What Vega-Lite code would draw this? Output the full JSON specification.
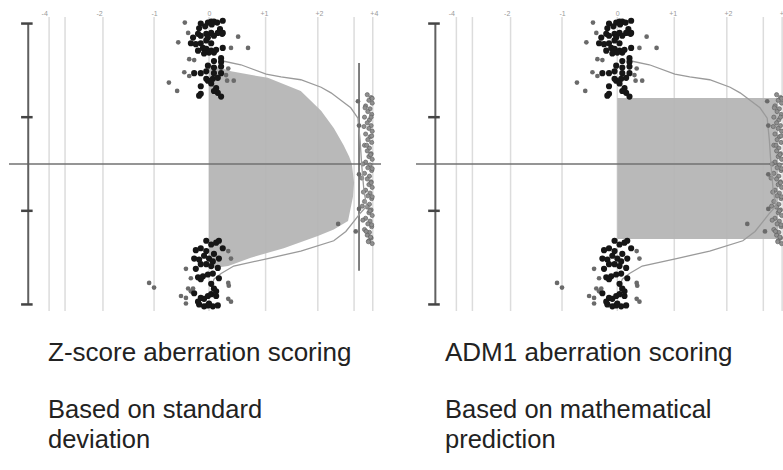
{
  "$schema": "https://vega.github.io/schema/vega-lite/v6.json",
  "background": "white",
  "padding": {"left": 8, "top": 9, "right": 0, "bottom": 0},
  "spacing": 33,
  "config": {"view": {"stroke": null}, "font": "Liberation Sans"},
  "datasets": {
    "grid": [{"u": -2.91}, {"u": -2.62}, {"u": -1.93}, {"u": -1}, {"u": 0}, {"u": 1.03}, {"u": 1.98}, {"u": 2.64}, {"u": 2.98}],
    "ybar": [{"u": -3.29, "v1": 1.5, "v2": -1.5}],
    "yticks": [{"v": 1.5, "a": -3.42, "b": -3.21}, {"v": 0.5, "a": -3.42, "b": -3.21}, {"v": -0.5, "a": -3.42, "b": -3.21}, {"v": -1.5, "a": -3.42, "b": -3.21}],
    "vline": [{"u": 2.73, "v1": 1.08, "v2": -1.14}],
    "hline": [{"a": -3.64, "b": 3.13, "v": 0}],
    "areaL": [
      {"u": 0, "v": 1.07, "z": 0}, {"u": 0.4, "v": 0.99, "z": 0}, {"u": 1.07, "v": 0.92, "z": 0}, {"u": 1.67, "v": 0.78, "z": 0}, {"u": 2.04, "v": 0.57, "z": 0},
      {"u": 2.27, "v": 0.385, "z": 0}, {"u": 2.45, "v": 0.2, "z": 0}, {"u": 2.55, "v": 0.08, "z": 0}, {"u": 2.6, "v": 0, "z": 0}, {"u": 2.64, "v": -0.2, "z": 0},
      {"u": 2.62, "v": -0.35, "z": 0}, {"u": 2.53, "v": -0.61, "z": 0}, {"u": 2.27, "v": -0.7, "z": 0}, {"u": 1.98, "v": -0.77, "z": 0}, {"u": 1.36, "v": -0.9, "z": 0},
      {"u": 0.76, "v": -1.0, "z": 0}, {"u": 0.35, "v": -1.09, "z": 0}, {"u": 0.09, "v": -1.11, "z": 0}, {"u": 0, "v": -1.12, "z": 0}
    ],
    "rectR": [{"u1": 0, "u2": 2.91, "v1": 0.706, "v2": -0.8}],
    "curve": [
      {"i": 1, "u": 0.25, "v": 1.1}, {"i": 2, "u": 0.58, "v": 1.06}, {"i": 3, "u": 1.04, "v": 0.96}, {"i": 4, "u": 1.31, "v": 0.93},
      {"i": 5, "u": 1.67, "v": 0.9}, {"i": 6, "u": 2.04, "v": 0.82}, {"i": 7, "u": 2.22, "v": 0.76}, {"i": 8, "u": 2.4, "v": 0.68},
      {"i": 9, "u": 2.58, "v": 0.6}, {"i": 10, "u": 2.71, "v": 0.49}, {"i": 11, "u": 2.75, "v": 0.25}, {"i": 12, "u": 2.78, "v": -0.02},
      {"i": 13, "u": 2.82, "v": -0.29}, {"i": 14, "u": 2.87, "v": -0.45}, {"i": 15, "u": 2.76, "v": -0.52}, {"i": 16, "u": 2.64, "v": -0.61},
      {"i": 17, "u": 2.49, "v": -0.72}, {"i": 18, "u": 2.27, "v": -0.82}, {"i": 19, "u": 1.67, "v": -0.93}, {"i": 20, "u": 1.07, "v": -1.01},
      {"i": 21, "u": 0.45, "v": -1.09}, {"i": 22, "u": 0.22, "v": -1.17}, {"i": 23, "u": 0.09, "v": -1.23}, {"i": 24, "u": 0.05, "v": -1.3},
      {"i": 25, "u": 0.04, "v": -1.38}
    ],
    "column": [
      {"u": 2.88, "v": 0.74}, {"u": 2.95, "v": 0.71}, {"u": 2.91, "v": 0.68}, {"u": 2.97, "v": 0.65}, {"u": 2.85, "v": 0.62},
      {"u": 2.93, "v": 0.59}, {"u": 2.89, "v": 0.56}, {"u": 2.96, "v": 0.53}, {"u": 2.83, "v": 0.5}, {"u": 2.92, "v": 0.47},
      {"u": 2.88, "v": 0.44}, {"u": 2.95, "v": 0.41}, {"u": 2.91, "v": 0.38}, {"u": 2.97, "v": 0.35}, {"u": 2.85, "v": 0.32},
      {"u": 2.93, "v": 0.29}, {"u": 2.89, "v": 0.26}, {"u": 2.96, "v": 0.23}, {"u": 2.83, "v": 0.2}, {"u": 2.92, "v": 0.17},
      {"u": 2.88, "v": 0.14}, {"u": 2.95, "v": 0.11}, {"u": 2.91, "v": 0.08}, {"u": 2.97, "v": 0.05}, {"u": 2.85, "v": 0.02},
      {"u": 2.93, "v": -0.01}, {"u": 2.89, "v": -0.04}, {"u": 2.96, "v": -0.07}, {"u": 2.83, "v": -0.1}, {"u": 2.92, "v": -0.13},
      {"u": 2.88, "v": -0.16}, {"u": 2.95, "v": -0.19}, {"u": 2.91, "v": -0.22}, {"u": 2.97, "v": -0.25}, {"u": 2.85, "v": -0.28},
      {"u": 2.93, "v": -0.31}, {"u": 2.89, "v": -0.34}, {"u": 2.96, "v": -0.37}, {"u": 2.83, "v": -0.4}, {"u": 2.92, "v": -0.43},
      {"u": 2.88, "v": -0.46}, {"u": 2.95, "v": -0.49}, {"u": 2.91, "v": -0.52}, {"u": 2.97, "v": -0.55}, {"u": 2.85, "v": -0.58},
      {"u": 2.93, "v": -0.61}, {"u": 2.89, "v": -0.64}, {"u": 2.96, "v": -0.67}, {"u": 2.83, "v": -0.7}, {"u": 2.92, "v": -0.73},
      {"u": 2.88, "v": -0.76}, {"u": 2.95, "v": -0.79}, {"u": 2.91, "v": -0.82}, {"u": 2.97, "v": -0.85},
      {"u": 2.97, "v": 0.7}, {"u": 2.84, "v": 0.6}, {"u": 2.95, "v": 0.5}, {"u": 2.82, "v": 0.4}, {"u": 2.96, "v": 0.3},
      {"u": 2.87, "v": 0.2}, {"u": 2.94, "v": 0.1}, {"u": 2.8, "v": 0.0}, {"u": 2.97, "v": -0.05}, {"u": 2.78, "v": -0.15},
      {"u": 2.95, "v": -0.2}, {"u": 2.81, "v": -0.3}, {"u": 2.97, "v": -0.35}, {"u": 2.79, "v": -0.45}, {"u": 2.93, "v": -0.5},
      {"u": 2.8, "v": -0.6}, {"u": 2.96, "v": -0.65}, {"u": 2.86, "v": -0.72}, {"u": 2.94, "v": -0.78}, {"u": 2.9, "v": -0.83}
    ],
    "clusters": [
      {"u": -0.44, "v": 1.51, "g": "light"}, {"u": -0.15, "v": 1.5, "g": "dark"}, {"u": -0.02, "v": 1.51, "g": "dark"}, {"u": 0.04, "v": 1.52, "g": "dark"},
      {"u": 0.09, "v": 1.52, "g": "dark"}, {"u": 0.15, "v": 1.51, "g": "dark"}, {"u": 0.25, "v": 1.53, "g": "dark"}, {"u": -0.18, "v": 1.45, "g": "dark"},
      {"u": -0.07, "v": 1.47, "g": "dark"}, {"u": 0.05, "v": 1.49, "g": "dark"}, {"u": 0.2, "v": 1.44, "g": "dark"}, {"u": 0.25, "v": 1.4, "g": "dark"},
      {"u": -0.38, "v": 1.4, "g": "light"}, {"u": -0.2, "v": 1.39, "g": "dark"}, {"u": -0.05, "v": 1.39, "g": "dark"}, {"u": 0.04, "v": 1.4, "g": "dark"},
      {"u": 0.16, "v": 1.4, "g": "dark"}, {"u": -0.29, "v": 1.35, "g": "dark"}, {"u": -0.15, "v": 1.37, "g": "dark"}, {"u": -0.02, "v": 1.35, "g": "dark"},
      {"u": 0.09, "v": 1.37, "g": "dark"}, {"u": 0.24, "v": 1.39, "g": "dark"}, {"u": 0.53, "v": 1.36, "g": "light"}, {"u": -0.56, "v": 1.3, "g": "light"},
      {"u": -0.33, "v": 1.29, "g": "dark"}, {"u": -0.24, "v": 1.28, "g": "dark"}, {"u": -0.15, "v": 1.29, "g": "dark"}, {"u": -0.05, "v": 1.32, "g": "dark"},
      {"u": 0.04, "v": 1.29, "g": "dark"}, {"u": -0.11, "v": 1.24, "g": "dark"}, {"u": -0.2, "v": 1.21, "g": "dark"}, {"u": -0.05, "v": 1.23, "g": "dark"},
      {"u": 0.04, "v": 1.21, "g": "dark"}, {"u": 0.13, "v": 1.22, "g": "dark"}, {"u": 0.25, "v": 1.24, "g": "dark"}, {"u": 0.4, "v": 1.24, "g": "light"},
      {"u": 0.71, "v": 1.24, "g": "light"}, {"u": -0.09, "v": 1.18, "g": "dark"}, {"u": 0, "v": 1.19, "g": "dark"}, {"u": 0.09, "v": 1.19, "g": "dark"},
      {"u": 0.22, "v": 1.13, "g": "dark"}, {"u": -0.36, "v": 1.12, "g": "light"}, {"u": -0.27, "v": 1.11, "g": "light"}, {"u": 0.09, "v": 1.1, "g": "dark"},
      {"u": 0.22, "v": 1.09, "g": "dark"}, {"u": -0.02, "v": 1.05, "g": "dark"}, {"u": 0.09, "v": 1.03, "g": "dark"}, {"u": 0.22, "v": 1.04, "g": "dark"},
      {"u": 0.35, "v": 1.02, "g": "light"}, {"u": -0.05, "v": 0.99, "g": "dark"}, {"u": -0.15, "v": 0.97, "g": "dark"}, {"u": -0.45, "v": 0.98, "g": "light"},
      {"u": -0.36, "v": 0.94, "g": "light"}, {"u": 0.09, "v": 0.97, "g": "dark"}, {"u": 0.22, "v": 0.97, "g": "dark"}, {"u": 0.31, "v": 0.95, "g": "light"},
      {"u": 0.45, "v": 0.89, "g": "light"}, {"u": -0.73, "v": 0.87, "g": "light"}, {"u": -0.58, "v": 0.78, "g": "light"}, {"u": -0.15, "v": 0.83, "g": "dark"},
      {"u": -0.02, "v": 0.89, "g": "dark"}, {"u": 0.07, "v": 0.91, "g": "dark"}, {"u": 0.16, "v": 0.92, "g": "dark"}, {"u": 0.04, "v": 0.86, "g": "dark"},
      {"u": 0.13, "v": 0.81, "g": "dark"}, {"u": 0.16, "v": 0.76, "g": "dark"}, {"u": 0.22, "v": 0.72, "g": "dark"}, {"u": -0.15, "v": 0.75, "g": "dark"},
      {"u": -0.18, "v": 0.73, "g": "dark"}, {"u": 0.09, "v": 0.78, "g": "dark"}, {"u": -0.27, "v": 0.97, "g": "dark"}, {"u": 0.33, "v": 0.89, "g": "light"},
      {"u": -0.05, "v": 0.91, "g": "dark"},
      {"u": -0.24, "v": -0.92, "g": "dark"}, {"u": -0.15, "v": -0.9, "g": "dark"}, {"u": -0.05, "v": -0.93, "g": "dark"}, {"u": 0.04, "v": -0.86, "g": "dark"},
      {"u": 0.13, "v": -0.84, "g": "dark"}, {"u": 0.18, "v": -0.82, "g": "dark"}, {"u": 0.25, "v": -0.9, "g": "dark"}, {"u": 0.35, "v": -0.93, "g": "light"},
      {"u": 0.4, "v": -1.01, "g": "light"}, {"u": -0.27, "v": -1.01, "g": "dark"}, {"u": -0.18, "v": -1.02, "g": "dark"}, {"u": -0.09, "v": -0.98, "g": "dark"},
      {"u": 0, "v": -1.01, "g": "dark"}, {"u": 0.09, "v": -0.96, "g": "dark"}, {"u": 0.18, "v": -1.01, "g": "dark"}, {"u": -0.15, "v": -1.07, "g": "dark"},
      {"u": -0.05, "v": -1.07, "g": "dark"}, {"u": 0.04, "v": -1.09, "g": "dark"}, {"u": 0.16, "v": -1.11, "g": "dark"}, {"u": -0.42, "v": -1.12, "g": "light"},
      {"u": -0.24, "v": -1.12, "g": "dark"}, {"u": -0.33, "v": -1.22, "g": "light"}, {"u": -0.2, "v": -1.21, "g": "dark"}, {"u": -0.11, "v": -1.2, "g": "dark"},
      {"u": -0.02, "v": -1.18, "g": "dark"}, {"u": 0.07, "v": -1.17, "g": "dark"}, {"u": 0.18, "v": -1.22, "g": "dark"}, {"u": -0.15, "v": -1.23, "g": "dark"},
      {"u": -1.09, "v": -1.27, "g": "light"}, {"u": -1.0, "v": -1.32, "g": "light"}, {"u": -0.38, "v": -1.33, "g": "light"}, {"u": -0.29, "v": -1.33, "g": "light"},
      {"u": 0.04, "v": -1.28, "g": "dark"}, {"u": 0.09, "v": -1.33, "g": "dark"}, {"u": 0.35, "v": -1.27, "g": "light"}, {"u": 0.36, "v": -1.3, "g": "light"},
      {"u": -0.51, "v": -1.41, "g": "light"}, {"u": -0.42, "v": -1.43, "g": "light"}, {"u": -0.33, "v": -1.36, "g": "light"}, {"u": -0.27, "v": -1.38, "g": "dark"},
      {"u": -0.42, "v": -1.49, "g": "light"}, {"u": -0.15, "v": -1.43, "g": "dark"}, {"u": -0.09, "v": -1.44, "g": "dark"}, {"u": -0.02, "v": -1.41, "g": "dark"},
      {"u": 0.04, "v": -1.39, "g": "dark"}, {"u": 0.13, "v": -1.41, "g": "dark"}, {"u": -0.18, "v": -1.5, "g": "dark"}, {"u": -0.09, "v": -1.52, "g": "dark"},
      {"u": -0.02, "v": -1.51, "g": "dark"}, {"u": 0.07, "v": -1.52, "g": "dark"}, {"u": 0.16, "v": -1.51, "g": "dark"}, {"u": 0.13, "v": -1.36, "g": "dark"},
      {"u": 0.4, "v": -1.47, "g": "light"}, {"u": 0.35, "v": -1.44, "g": "light"}, {"u": -0.2, "v": -1.47, "g": "dark"}, {"u": 0, "v": -1.49, "g": "dark"},
      {"u": -0.05, "v": -0.82, "g": "dark"}, {"u": 0.07, "v": -1.04, "g": "dark"},
      {"u": 2.71, "v": 0.67, "g": "light"}, {"u": 2.73, "v": 0.41, "g": "light"}, {"u": 2.73, "v": -0.11, "g": "light"}, {"u": 2.73, "v": -0.48, "g": "light"},
      {"u": 2.67, "v": -0.72, "g": "light"}, {"u": 2.35, "v": -0.64, "g": "light"}
    ]
  },
  "hconcat": [
    {
      "width": 372,
      "height": 294,
      "title": {
        "text": "Z-score aberration scoring",
        "subtitle": ["Based on standard", "deviation"],
        "orient": "bottom", "anchor": "start", "frame": "group", "offset": 28, "dx": 39,
        "font": "Liberation Sans", "fontSize": 26, "fontWeight": "normal", "color": "#222222",
        "subtitleFont": "Liberation Sans", "subtitleFontSize": 25.5, "subtitleColor": "#222222",
        "subtitlePadding": 32, "subtitleLineHeight": 30
      },
      "layer": [
        {
          "data": {"name": "grid"},
          "mark": {"type": "rule", "color": "#dcdcdc", "strokeWidth": 1.5},
          "encoding": {
            "x": {"field": "u", "type": "quantitative", "scale": {"domain": [-3.64, 3.13], "nice": false, "zero": false},
              "axis": {"orient": "top", "values": [-3, -2, -1, 0, 1, 2, 3], "labelExpr": "datum.value == -3 ? '-4' : datum.value == -2 ? '-2' : datum.value == -1 ? '-1' : datum.value == 0 ? '0' : datum.value == 1 ? '+1' : datum.value == 2 ? '+2' : '+4'", "domain": false, "ticks": false, "grid": false, "labelFontSize": 7, "labelColor": "#9a9a9a", "labelPadding": 1, "title": null, "labelFlush": false}}
          }
        },
        {
          "data": {"name": "areaL"},
          "mark": {"type": "area", "orient": "horizontal", "color": "#b3b3b3", "opacity": 0.92},
          "encoding": {
            "x": {"field": "u", "type": "quantitative",
              "axis": {"orient": "top", "values": [-3, -2, -1, 0, 1, 2, 3], "labelExpr": "datum.value == -3 ? '-4' : datum.value == -2 ? '-2' : datum.value == -1 ? '-1' : datum.value == 0 ? '0' : datum.value == 1 ? '+1' : datum.value == 2 ? '+2' : '+4'", "domain": false, "ticks": false, "grid": false, "labelFontSize": 7, "labelColor": "#9a9a9a", "labelPadding": 1, "title": null, "labelFlush": false}},
            "x2": {"field": "z"},
            "y": {"field": "v", "type": "quantitative", "scale": {"domain": [-1.57, 1.57], "nice": false, "zero": false}, "axis": null}
          }
        },
        {
          "data": {"name": "hline"},
          "mark": {"type": "rule", "color": "#727272", "strokeWidth": 1.5},
          "encoding": {
            "x": {"field": "a", "type": "quantitative",
              "axis": {"orient": "top", "values": [-3, -2, -1, 0, 1, 2, 3], "labelExpr": "datum.value == -3 ? '-4' : datum.value == -2 ? '-2' : datum.value == -1 ? '-1' : datum.value == 0 ? '0' : datum.value == 1 ? '+1' : datum.value == 2 ? '+2' : '+4'", "domain": false, "ticks": false, "grid": false, "labelFontSize": 7, "labelColor": "#9a9a9a", "labelPadding": 1, "title": null, "labelFlush": false}},
            "x2": {"field": "b"},
            "y": {"field": "v", "type": "quantitative", "axis": null}
          }
        },
        {
          "data": {"name": "ybar"},
          "mark": {"type": "rule", "color": "#606060", "strokeWidth": 2},
          "encoding": {
            "x": {"field": "u", "type": "quantitative",
              "axis": {"orient": "top", "values": [-3, -2, -1, 0, 1, 2, 3], "labelExpr": "datum.value == -3 ? '-4' : datum.value == -2 ? '-2' : datum.value == -1 ? '-1' : datum.value == 0 ? '0' : datum.value == 1 ? '+1' : datum.value == 2 ? '+2' : '+4'", "domain": false, "ticks": false, "grid": false, "labelFontSize": 7, "labelColor": "#9a9a9a", "labelPadding": 1, "title": null, "labelFlush": false}},
            "y": {"field": "v1", "type": "quantitative", "axis": null},
            "y2": {"field": "v2"}
          }
        },
        {
          "data": {"name": "yticks"},
          "mark": {"type": "rule", "color": "#444444", "strokeWidth": 2.5},
          "encoding": {
            "x": {"field": "a", "type": "quantitative",
              "axis": {"orient": "top", "values": [-3, -2, -1, 0, 1, 2, 3], "labelExpr": "datum.value == -3 ? '-4' : datum.value == -2 ? '-2' : datum.value == -1 ? '-1' : datum.value == 0 ? '0' : datum.value == 1 ? '+1' : datum.value == 2 ? '+2' : '+4'", "domain": false, "ticks": false, "grid": false, "labelFontSize": 7, "labelColor": "#9a9a9a", "labelPadding": 1, "title": null, "labelFlush": false}},
            "x2": {"field": "b"},
            "y": {"field": "v", "type": "quantitative", "axis": null}
          }
        },
        {
          "data": {"name": "vline"},
          "mark": {"type": "rule", "color": "#555555", "strokeWidth": 1.5},
          "encoding": {
            "x": {"field": "u", "type": "quantitative",
              "axis": {"orient": "top", "values": [-3, -2, -1, 0, 1, 2, 3], "labelExpr": "datum.value == -3 ? '-4' : datum.value == -2 ? '-2' : datum.value == -1 ? '-1' : datum.value == 0 ? '0' : datum.value == 1 ? '+1' : datum.value == 2 ? '+2' : '+4'", "domain": false, "ticks": false, "grid": false, "labelFontSize": 7, "labelColor": "#9a9a9a", "labelPadding": 1, "title": null, "labelFlush": false}},
            "y": {"field": "v1", "type": "quantitative", "axis": null},
            "y2": {"field": "v2"}
          }
        },
        {
          "data": {"name": "column"},
          "mark": {"type": "point", "filled": true, "color": "#8f8f8f", "stroke": "#5a5a5a", "strokeWidth": 0.6, "size": 18, "opacity": 1},
          "encoding": {
            "x": {"field": "u", "type": "quantitative",
              "axis": {"orient": "top", "values": [-3, -2, -1, 0, 1, 2, 3], "labelExpr": "datum.value == -3 ? '-4' : datum.value == -2 ? '-2' : datum.value == -1 ? '-1' : datum.value == 0 ? '0' : datum.value == 1 ? '+1' : datum.value == 2 ? '+2' : '+4'", "domain": false, "ticks": false, "grid": false, "labelFontSize": 7, "labelColor": "#9a9a9a", "labelPadding": 1, "title": null, "labelFlush": false}},
            "y": {"field": "v", "type": "quantitative", "axis": null}
          }
        },
        {
          "data": {"name": "curve"},
          "mark": {"type": "line", "color": "#9a9a9a", "strokeWidth": 1.3},
          "encoding": {
            "x": {"field": "u", "type": "quantitative",
              "axis": {"orient": "top", "values": [-3, -2, -1, 0, 1, 2, 3], "labelExpr": "datum.value == -3 ? '-4' : datum.value == -2 ? '-2' : datum.value == -1 ? '-1' : datum.value == 0 ? '0' : datum.value == 1 ? '+1' : datum.value == 2 ? '+2' : '+4'", "domain": false, "ticks": false, "grid": false, "labelFontSize": 7, "labelColor": "#9a9a9a", "labelPadding": 1, "title": null, "labelFlush": false}},
            "y": {"field": "v", "type": "quantitative", "axis": null},
            "order": {"field": "i"}
          }
        },
        {
          "data": {"name": "clusters"},
          "mark": {"type": "point", "filled": true, "opacity": 1},
          "encoding": {
            "x": {"field": "u", "type": "quantitative",
              "axis": {"orient": "top", "values": [-3, -2, -1, 0, 1, 2, 3], "labelExpr": "datum.value == -3 ? '-4' : datum.value == -2 ? '-2' : datum.value == -1 ? '-1' : datum.value == 0 ? '0' : datum.value == 1 ? '+1' : datum.value == 2 ? '+2' : '+4'", "domain": false, "ticks": false, "grid": false, "labelFontSize": 7, "labelColor": "#9a9a9a", "labelPadding": 1, "title": null, "labelFlush": false}},
            "y": {"field": "v", "type": "quantitative", "axis": null},
            "color": {"field": "g", "type": "nominal", "scale": {"domain": ["dark", "light"], "range": ["#161616", "#6a6a6a"]}, "legend": null},
            "size": {"field": "g", "type": "nominal", "scale": {"domain": ["dark", "light"], "range": [38, 22]}, "legend": null}
          }
        }
      ]
    },
    {
      "width": 370,
      "height": 294,
      "title": {
        "text": "ADM1 aberration scoring",
        "subtitle": ["Based on mathematical", "prediction"],
        "orient": "bottom", "anchor": "start", "frame": "group", "offset": 28, "dx": 29,
        "font": "Liberation Sans", "fontSize": 26, "fontWeight": "normal", "color": "#222222",
        "subtitleFont": "Liberation Sans", "subtitleFontSize": 25.5, "subtitleColor": "#222222",
        "subtitlePadding": 32, "subtitleLineHeight": 30
      },
      "layer": [
        {
          "data": {"name": "grid"},
          "mark": {"type": "rule", "color": "#dcdcdc", "strokeWidth": 1.5},
          "encoding": {
            "x": {"field": "u", "type": "quantitative", "scale": {"domain": [-3.64, 3.05], "nice": false, "zero": false},
              "axis": {"orient": "top", "values": [-3, -2, -1, 0, 1, 2, 3], "labelExpr": "datum.value == -3 ? '-4' : datum.value == -2 ? '-2' : datum.value == -1 ? '-1' : datum.value == 0 ? '0' : datum.value == 1 ? '+1' : datum.value == 2 ? '+2' : '+4'", "domain": false, "ticks": false, "grid": false, "labelFontSize": 7, "labelColor": "#9a9a9a", "labelPadding": 1, "title": null, "labelFlush": false}}
          }
        },
        {
          "data": {"name": "rectR"},
          "mark": {"type": "rect", "color": "#b3b3b3", "opacity": 0.92},
          "encoding": {
            "x": {"field": "u1", "type": "quantitative",
              "axis": {"orient": "top", "values": [-3, -2, -1, 0, 1, 2, 3], "labelExpr": "datum.value == -3 ? '-4' : datum.value == -2 ? '-2' : datum.value == -1 ? '-1' : datum.value == 0 ? '0' : datum.value == 1 ? '+1' : datum.value == 2 ? '+2' : '+4'", "domain": false, "ticks": false, "grid": false, "labelFontSize": 7, "labelColor": "#9a9a9a", "labelPadding": 1, "title": null, "labelFlush": false}},
            "x2": {"field": "u2"},
            "y": {"field": "v1", "type": "quantitative", "scale": {"domain": [-1.57, 1.57], "nice": false, "zero": false}, "axis": null},
            "y2": {"field": "v2"}
          }
        },
        {
          "data": {"name": "hline"},
          "mark": {"type": "rule", "color": "#727272", "strokeWidth": 1.5},
          "encoding": {
            "x": {"field": "a", "type": "quantitative",
              "axis": {"orient": "top", "values": [-3, -2, -1, 0, 1, 2, 3], "labelExpr": "datum.value == -3 ? '-4' : datum.value == -2 ? '-2' : datum.value == -1 ? '-1' : datum.value == 0 ? '0' : datum.value == 1 ? '+1' : datum.value == 2 ? '+2' : '+4'", "domain": false, "ticks": false, "grid": false, "labelFontSize": 7, "labelColor": "#9a9a9a", "labelPadding": 1, "title": null, "labelFlush": false}},
            "x2": {"field": "b"},
            "y": {"field": "v", "type": "quantitative", "axis": null}
          }
        },
        {
          "data": {"name": "ybar"},
          "mark": {"type": "rule", "color": "#606060", "strokeWidth": 2},
          "encoding": {
            "x": {"field": "u", "type": "quantitative",
              "axis": {"orient": "top", "values": [-3, -2, -1, 0, 1, 2, 3], "labelExpr": "datum.value == -3 ? '-4' : datum.value == -2 ? '-2' : datum.value == -1 ? '-1' : datum.value == 0 ? '0' : datum.value == 1 ? '+1' : datum.value == 2 ? '+2' : '+4'", "domain": false, "ticks": false, "grid": false, "labelFontSize": 7, "labelColor": "#9a9a9a", "labelPadding": 1, "title": null, "labelFlush": false}},
            "y": {"field": "v1", "type": "quantitative", "axis": null},
            "y2": {"field": "v2"}
          }
        },
        {
          "data": {"name": "yticks"},
          "mark": {"type": "rule", "color": "#444444", "strokeWidth": 2.5},
          "encoding": {
            "x": {"field": "a", "type": "quantitative",
              "axis": {"orient": "top", "values": [-3, -2, -1, 0, 1, 2, 3], "labelExpr": "datum.value == -3 ? '-4' : datum.value == -2 ? '-2' : datum.value == -1 ? '-1' : datum.value == 0 ? '0' : datum.value == 1 ? '+1' : datum.value == 2 ? '+2' : '+4'", "domain": false, "ticks": false, "grid": false, "labelFontSize": 7, "labelColor": "#9a9a9a", "labelPadding": 1, "title": null, "labelFlush": false}},
            "x2": {"field": "b"},
            "y": {"field": "v", "type": "quantitative", "axis": null}
          }
        },
        {
          "data": {"name": "column"},
          "mark": {"type": "point", "filled": true, "color": "#8f8f8f", "stroke": "#5a5a5a", "strokeWidth": 0.6, "size": 18, "opacity": 1},
          "encoding": {
            "x": {"field": "u", "type": "quantitative",
              "axis": {"orient": "top", "values": [-3, -2, -1, 0, 1, 2, 3], "labelExpr": "datum.value == -3 ? '-4' : datum.value == -2 ? '-2' : datum.value == -1 ? '-1' : datum.value == 0 ? '0' : datum.value == 1 ? '+1' : datum.value == 2 ? '+2' : '+4'", "domain": false, "ticks": false, "grid": false, "labelFontSize": 7, "labelColor": "#9a9a9a", "labelPadding": 1, "title": null, "labelFlush": false}},
            "y": {"field": "v", "type": "quantitative", "axis": null}
          }
        },
        {
          "data": {"name": "curve"},
          "mark": {"type": "line", "color": "#9a9a9a", "strokeWidth": 1.3},
          "encoding": {
            "x": {"field": "u", "type": "quantitative",
              "axis": {"orient": "top", "values": [-3, -2, -1, 0, 1, 2, 3], "labelExpr": "datum.value == -3 ? '-4' : datum.value == -2 ? '-2' : datum.value == -1 ? '-1' : datum.value == 0 ? '0' : datum.value == 1 ? '+1' : datum.value == 2 ? '+2' : '+4'", "domain": false, "ticks": false, "grid": false, "labelFontSize": 7, "labelColor": "#9a9a9a", "labelPadding": 1, "title": null, "labelFlush": false}},
            "y": {"field": "v", "type": "quantitative", "axis": null},
            "order": {"field": "i"}
          }
        },
        {
          "data": {"name": "clusters"},
          "mark": {"type": "point", "filled": true, "opacity": 1},
          "encoding": {
            "x": {"field": "u", "type": "quantitative",
              "axis": {"orient": "top", "values": [-3, -2, -1, 0, 1, 2, 3], "labelExpr": "datum.value == -3 ? '-4' : datum.value == -2 ? '-2' : datum.value == -1 ? '-1' : datum.value == 0 ? '0' : datum.value == 1 ? '+1' : datum.value == 2 ? '+2' : '+4'", "domain": false, "ticks": false, "grid": false, "labelFontSize": 7, "labelColor": "#9a9a9a", "labelPadding": 1, "title": null, "labelFlush": false}},
            "y": {"field": "v", "type": "quantitative", "axis": null},
            "color": {"field": "g", "type": "nominal", "scale": {"domain": ["dark", "light"], "range": ["#161616", "#6a6a6a"]}, "legend": null},
            "size": {"field": "g", "type": "nominal", "scale": {"domain": ["dark", "light"], "range": [38, 22]}, "legend": null}
          }
        }
      ]
    }
  ]
}
